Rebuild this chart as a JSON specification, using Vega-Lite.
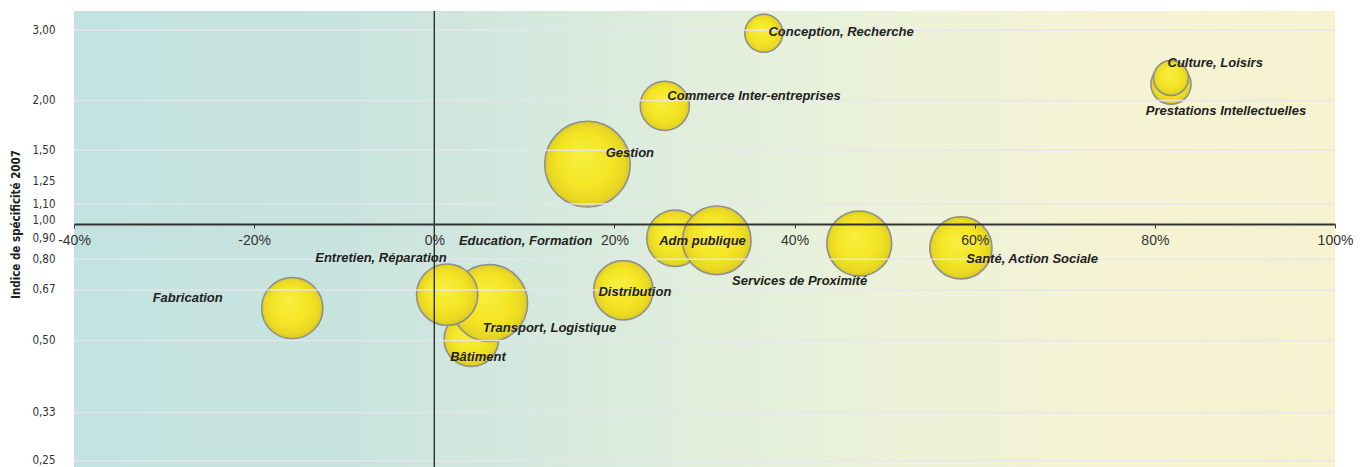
{
  "$schema": "https://vega.github.io/schema/vega-lite/v6.json",
  "width": 1261,
  "height": 456,
  "autosize": {"type": "none"},
  "padding": {"left": 74, "top": 11, "right": 32, "bottom": 0},
  "background": "white",
  "config": {"view": {"stroke": null}},
  "datasets": {
    "secteurs": [
      {"nom": "Fabrication", "x": -15.77, "y": 0.603, "poids": 936, "lx": -27.38, "ly": 0.638},
      {"nom": "Bâtiment", "x": 4.11, "y": 0.504, "poids": 745, "lx": 4.85, "ly": 0.454},
      {"nom": "Transport, Logistique", "x": 6.09, "y": 0.621, "poids": 1482, "lx": 12.79, "ly": 0.537},
      {"nom": "Entretien, Réparation", "x": 1.43, "y": 0.652, "poids": 942, "lx": -5.92, "ly": 0.804},
      {"nom": "Education, Formation", "x": 26.73, "y": 0.903, "poids": 801, "lx": 10.15, "ly": 0.890},
      {"nom": "Adm publique", "x": 31.36, "y": 0.892, "poids": 1176, "lx": 29.78, "ly": 0.890},
      {"nom": "Distribution", "x": 20.99, "y": 0.669, "poids": 888, "lx": 22.27, "ly": 0.663},
      {"nom": "Gestion", "x": 17.01, "y": 1.385, "poids": 1832, "lx": 21.71, "ly": 1.475},
      {"nom": "Commerce Inter-entreprises", "x": 25.59, "y": 1.94, "poids": 605, "lx": 35.5, "ly": 2.056},
      {"nom": "Conception, Recherche", "x": 36.58, "y": 2.95, "poids": 361, "lx": 45.16, "ly": 2.976},
      {"nom": "Services de Proximité", "x": 47.18, "y": 0.876, "poids": 1056, "lx": 40.56, "ly": 0.707},
      {"nom": "Santé, Action Sociale", "x": 58.47, "y": 0.854, "poids": 967, "lx": 66.37, "ly": 0.801},
      {"nom": "Prestations Intellectuelles", "x": 81.79, "y": 2.198, "poids": 404, "lx": 87.89, "ly": 1.886},
      {"nom": "Culture, Loisirs", "x": 81.79, "y": 2.278, "poids": 306, "lx": 86.7, "ly": 2.488}
    ],
    "grille": [
      {"g": 0.25}, {"g": 0.33}, {"g": 0.5}, {"g": 0.67}, {"g": 0.8}, {"g": 1.1}, {"g": 1.5}, {"g": 2}, {"g": 3}
    ],
    "fond": [{"x0": -40, "x1": 100, "y0": 0.241, "y1": 3.354}]
  },
  "layer": [
    {
      "data": {"name": "fond"},
      "mark": {
        "type": "rect",
        "fill": {
          "gradient": "linear", "x1": 0, "y1": 0, "x2": 1, "y2": 0,
          "stops": [
            {"offset": 0, "color": "#c3e2df"},
            {"offset": 0.2, "color": "#c7e3de"},
            {"offset": 0.35, "color": "#d3e8de"},
            {"offset": 0.5, "color": "#e1eedc"},
            {"offset": 0.65, "color": "#ecf2d9"},
            {"offset": 0.8, "color": "#f4f3d4"},
            {"offset": 1, "color": "#f7f2d0"}
          ]
        }
      },
      "encoding": {
        "x": {"field": "x0", "type": "quantitative", "scale": {"domain": [-40, 100], "nice": false, "zero": false},
          "axis": {"values": [-40, -20, 0, 20, 40, 60, 80, 100], "labelExpr": "datum.value + '%'", "title": null, "grid": false,
            "offset": -243, "zindex": 1, "domainColor": "#333333", "domainWidth": 2, "tickColor": "#333333", "tickSize": 4, "tickWidth": 1,
            "labelFont": "Liberation Sans", "labelFontSize": 14, "labelColor": "#333333", "labelPadding": 5, "labelFlush": false, "labelOverlap": false}},
        "x2": {"field": "x1"},
        "y": {"field": "y0", "type": "quantitative", "scale": {"type": "log", "domain": [0.241, 3.354], "nice": false},
          "axis": {"values": [0.25, 0.33, 0.5, 0.67, 0.8, 0.9, 1, 1.1, 1.25, 1.5, 2, 3], "format": ".2f",
            "labelExpr": "replace(datum.label, '.', ',')", "grid": false, "domain": false, "ticks": false, "labelPadding": 19,
            "labelFont": "DejaVu Sans Condensed, Liberation Sans", "labelFontSize": 11.5, "labelColor": "#333333", "labelOverlap": false,
            "title": "Indice de spécificité 2007", "titleFont": "DejaVu Sans Condensed, Liberation Sans", "titleFontSize": 11.5, "titleFontWeight": "bold",
            "titleColor": "#222222", "titleAngle": 270, "titleX": -58, "titleY": 213, "titleAlign": "center", "titleBaseline": "middle"}},
        "y2": {"field": "y1"}
      }
    },
    {
      "data": {"name": "secteurs"},
      "mark": {
        "type": "point", "shape": "circle", "filled": true, "opacity": 1,
        "fill": {
          "gradient": "radial", "x1": 0.42, "y1": 0.38, "r1": 0, "x2": 0.5, "y2": 0.5, "r2": 0.5,
          "stops": [
            {"offset": 0, "color": "#f8ef40"},
            {"offset": 0.6, "color": "#f4e625"},
            {"offset": 0.9, "color": "#e8d722"},
            {"offset": 1, "color": "#d6c52a"}
          ]
        },
        "stroke": "#8e8e8e", "strokeWidth": 1.5, "strokeOpacity": 1
      },
      "encoding": {
        "x": {"field": "x", "type": "quantitative"},
        "y": {"field": "y", "type": "quantitative"},
        "size": {"field": "poids", "type": "quantitative", "scale": {"type": "linear", "domain": [0, 2000], "range": [0, 8000]}, "legend": null}
      }
    },
    {
      "data": {"name": "grille"},
      "mark": {"type": "rule", "color": "#e6e6ec", "strokeWidth": 1.5, "opacity": 0.9},
      "encoding": {"y": {"field": "g", "type": "quantitative"}}
    },
    {
      "data": {"values": [{"v": 0}]},
      "mark": {"type": "rule", "color": "#222222", "strokeWidth": 1.3},
      "encoding": {"x": {"field": "v", "type": "quantitative"}}
    },
    {
      "data": {"name": "secteurs"},
      "mark": {"type": "text", "font": "Liberation Sans", "fontSize": 13, "fontWeight": "bold", "fontStyle": "italic", "color": "#222222", "align": "center", "baseline": "middle"},
      "encoding": {
        "x": {"field": "lx", "type": "quantitative"},
        "y": {"field": "ly", "type": "quantitative"},
        "text": {"field": "nom", "type": "nominal"}
      }
    }
  ]
}
